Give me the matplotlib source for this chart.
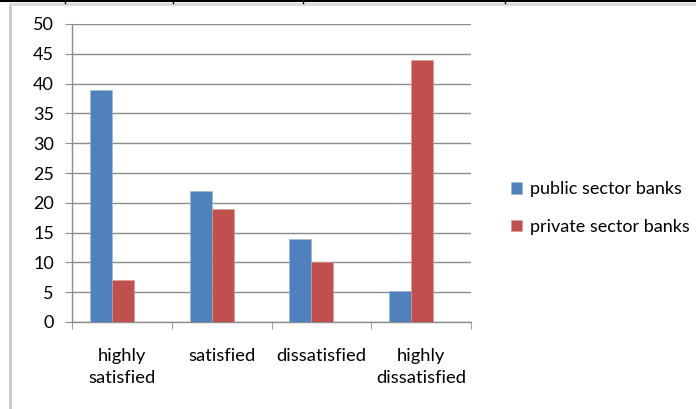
import matplotlib
matplotlib.use("Agg")
import matplotlib.pyplot as plt
from matplotlib.lines import Line2D
import numpy as np

categories = ["highly\nsatisfied", "satisfied", "dissatisfied", "highly\ndissatisfied"]
public_banks = [39, 22, 14, 5.2]
private_banks = [7, 19, 10, 44]
series_names = ["public sector banks", "private sector banks"]
y_ticks = [0, 5, 10, 15, 20, 25, 30, 35, 40, 45, 50]

BLUE = "#4F81BD"
RED = "#C0504D"
GRID = "#8c8c8c"

plt.rcParams["font.family"] = ["Lato", "DejaVu Sans"]

fig = plt.figure(figsize=(6.96, 4.09), dpi=100)
ax = fig.add_axes([72 / 696, 1 - 322 / 409, 399 / 696, 298 / 409])

x = np.arange(len(categories))
w = 0.22
ax.bar(x - 0.1 - w / 2, public_banks, w, color=BLUE, label=series_names[0],
       edgecolor="#9bb7da", linewidth=0.4, zorder=3)
ax.bar(x - 0.1 + w / 2, private_banks, w, color=RED, label=series_names[1],
       edgecolor="#dc9a98", linewidth=0.4, zorder=3)

ax.set_xlim(-0.5, len(categories) - 0.5)
ax.set_ylim(0, 50)
ax.set_yticks(y_ticks)
ax.yaxis.grid(True, color=GRID, linewidth=1.0, zorder=0)
ax.tick_params(axis="y", length=5, color=GRID, labelsize=13, pad=8)

# category labels centred, tick marks on the category boundaries
ax.set_xticks(x)
ax.set_xticklabels(categories, fontsize=13.2, linespacing=1.45)
ax.tick_params(axis="x", which="major", length=0, pad=19)
ax.set_xticks(np.arange(-0.5, len(categories)), minor=True)
ax.tick_params(axis="x", which="minor", length=5, color=GRID)

for side in ["top", "right"]:
    ax.spines[side].set_visible(False)
for side in ["left", "bottom"]:
    ax.spines[side].set_color(GRID)
    ax.spines[side].set_linewidth(1.0)

fig.legend(loc="center left", bbox_to_anchor=(495 / 696, 1 - 208 / 409),
           frameon=False, fontsize=13, handlelength=0.6, handleheight=0.6,
           handletextpad=0.45, labelspacing=1.2)

# chart area border and table rule above it
fig.add_artist(Line2D([10 / 696, 10 / 696], [0, 1 - 4 / 409],
                      transform=fig.transFigure, color="#c8c8c8", linewidth=2))
fig.add_artist(Line2D([10 / 696, 1], [1 - 4 / 409, 1 - 4 / 409],
                      transform=fig.transFigure, color="#d8d8d8", linewidth=2))
fig.add_artist(Line2D([0, 1], [1 - 1 / 409, 1 - 1 / 409],
                      transform=fig.transFigure, color="black", linewidth=1.5))
for px in [65, 173, 303, 505]:
    fig.add_artist(Line2D([px / 696, px / 696], [1 - 3 / 409, 1],
                          transform=fig.transFigure, color="black", linewidth=1))

fig.savefig("out.png", dpi=100)
